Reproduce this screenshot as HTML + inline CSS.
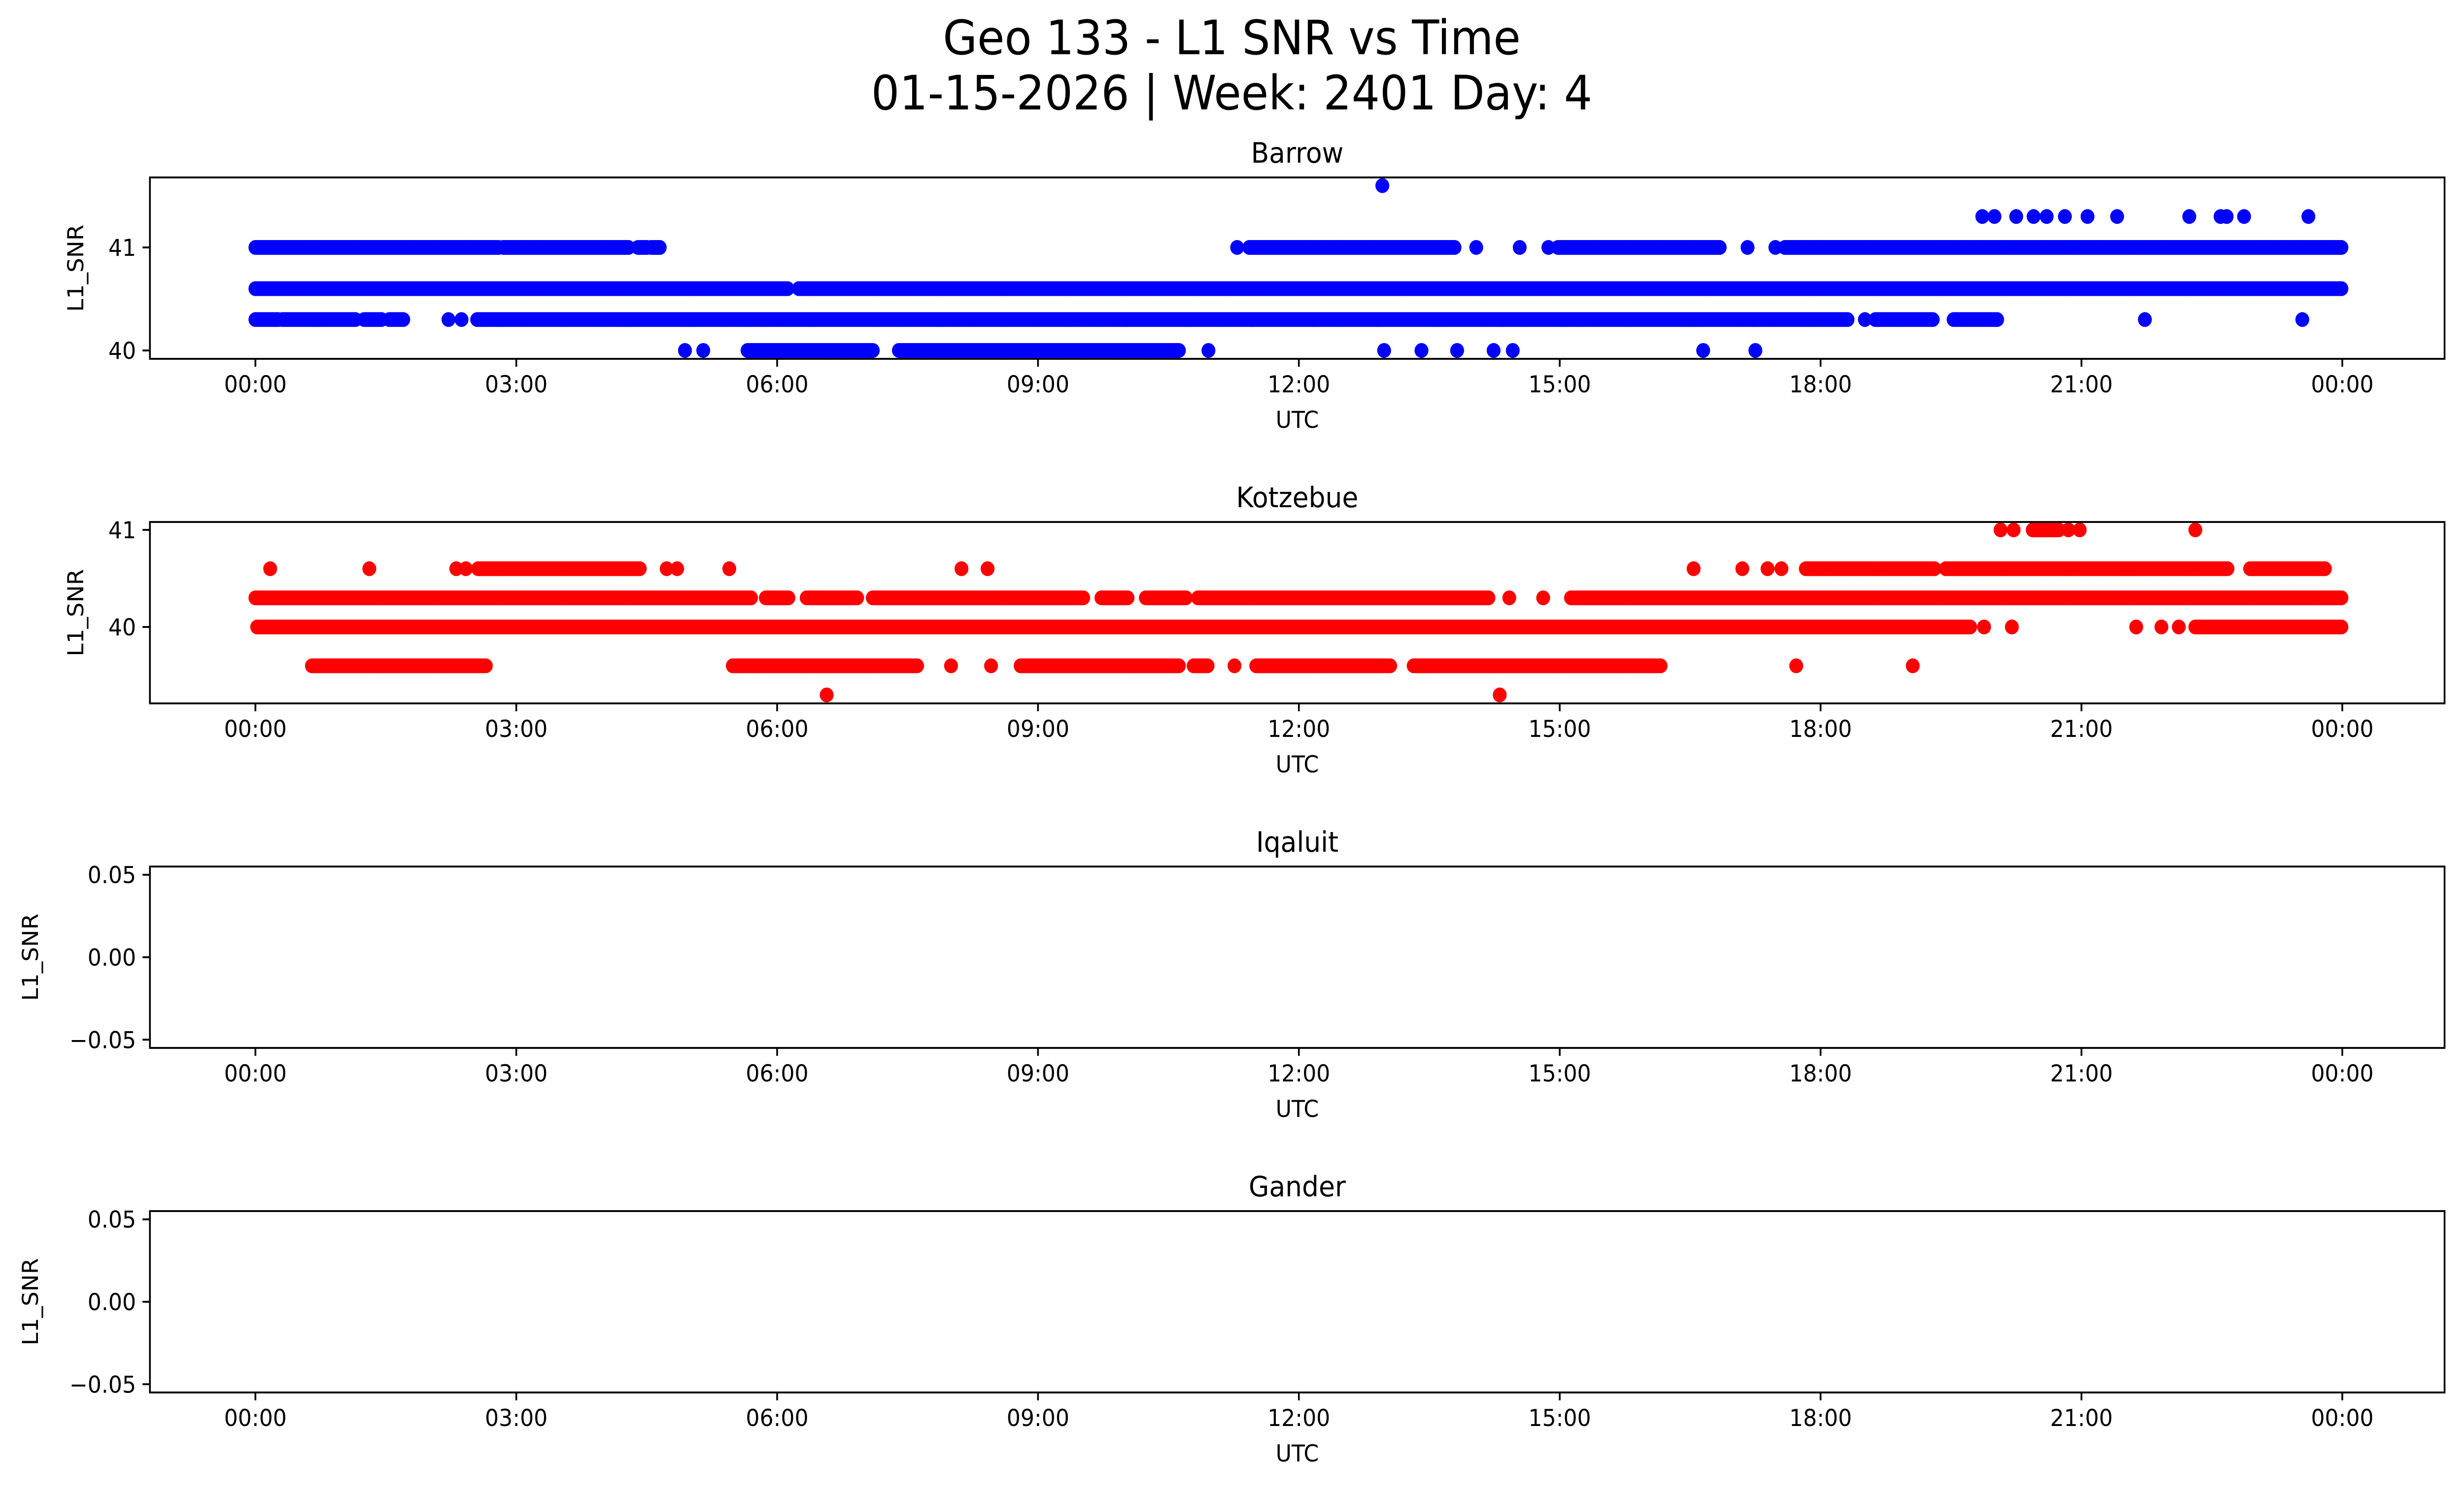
<!DOCTYPE html>
<html><head><meta charset="utf-8"><title>Geo 133 - L1 SNR vs Time</title>
<style>html,body{margin:0;padding:0;background:#fff;overflow:hidden;width:100%;height:100%}svg{display:block;position:absolute;left:0;top:0;width:100vw;height:100vh}text{font-family:"DejaVu Sans","Liberation Sans",sans-serif;fill:#000}</style>
</head><body>
<svg id="fig" xmlns="http://www.w3.org/2000/svg" viewBox="0 0 5325 3033" preserveAspectRatio="none">
<rect width="5325" height="3033" fill="#fff"/>
<text x="2662" y="110" font-size="96" text-anchor="middle">Geo 133 - L1 SNR vs Time</text>
<text x="2662" y="222" font-size="96" text-anchor="middle">01-15-2026 | Week: 2401 Day: 4</text>
</svg>
<script>
// ---- data (hours UTC, L1 SNR). Ranges [start,end] = continuous runs of samples; single = isolated sample ----
const stations = ["Barrow","Kotzebue","Iqaluit","Gander"];
const xTickLabels = ["00:00","03:00","06:00","09:00","12:00","15:00","18:00","21:00","00:00"];
const xTickHours = [0,3,6,9,12,15,18,21,24];
const barrowLevels = [41.6,41.3,41,40.6,40.3,40];
const barrowRuns = [
 [[12.96,12.96]],
 [[19.86,19.86],[20.0,20.0],[20.25,20.25],[20.45,20.45],[20.6,20.6],[20.81,20.81],[21.07,21.07],[21.41,21.41],[22.24,22.24],[22.6,22.6],[22.67,22.67],[22.87,22.87],[23.61,23.61]],
 [[0.0,2.8],[2.85,4.3],[4.4,4.5],[4.55,4.65],[11.29,11.29],[11.43,13.8],[14.04,14.04],[14.54,14.54],[14.87,14.87],[14.98,16.84],[17.16,17.16],[17.48,17.48],[17.59,24.0]],
 [[0.0,6.13],[6.25,24.0]],
 [[0.0,0.27],[0.31,1.16],[1.25,1.46],[1.54,1.71],[2.22,2.22],[2.37,2.37],[2.55,18.32],[18.51,18.51],[18.63,19.29],[19.53,20.03],[21.73,21.73],[23.54,23.54]],
 [[4.94,4.94],[5.15,5.15],[5.66,7.10],[7.40,10.62],[10.96,10.96],[12.98,12.98],[13.41,13.41],[13.82,13.82],[14.24,14.24],[14.46,14.46],[16.65,16.65],[17.25,17.25]]
];
const kotzLevels = [41,40.6,40.3,40,39.6,39.3];
const kotzRuns = [
 [[20.07,20.07],[20.22,20.22],[20.44,20.74],[20.85,20.85],[20.98,20.98],[22.31,22.31]],
 [[0.17,0.17],[1.31,1.31],[2.31,2.31],[2.42,2.42],[2.56,4.43],[4.73,4.73],[4.85,4.85],[5.45,5.45],[8.12,8.12],[8.42,8.42],[16.54,16.54],[17.1,17.1],[17.39,17.39],[17.55,17.55],[17.83,19.31],[19.44,22.68],[22.94,23.8]],
 [[0.0,5.7],[5.87,6.13],[6.34,6.93],[7.1,9.52],[9.73,10.03],[10.24,10.71],[10.84,14.18],[14.42,14.42],[14.81,14.81],[15.13,24.0]],
 [[0.02,19.72],[19.88,19.88],[20.2,20.2],[21.63,21.63],[21.92,21.92],[22.12,22.12],[22.31,24.0]],
 [[0.65,2.65],[5.49,7.61],[8.0,8.0],[8.46,8.46],[8.8,10.62],[10.79,10.96],[11.26,11.26],[11.51,13.06],[13.32,16.17],[17.72,17.72],[19.06,19.06]],
 [[6.57,6.57],[14.31,14.31]]
];
const barrowYTicks = [40,41];
const kotzYTicks = [40,41];
const emptyYTicks = [0.05,0.0,-0.05];
const emptyYTickLabels = ["0.05","0.00","\u22120.05"];

// ---- layout ----
const NS="http://www.w3.org/2000/svg";
const svg=document.getElementById('fig');
const AX_L=324, AX_R=5283, AX_H=368;
const tops=[360,1059,1758,2457];
const X0=552, X24=5062;
function xScale(h){return X0+(X24-X0)*h/24;}
function mk(tag,attrs,parent){const e=document.createElementNS(NS,tag);for(const k in attrs)e.setAttribute(k,attrs[k]);(parent||svg).appendChild(e);return e;}

function yScaleFactory(top,v0,p0,v1,p1){return v=>p0+(v-v0)*(p1-p0)/(v1-v0);}
const yScales=[
 yScaleFactory(tops[0],40,711,41,502),
 yScaleFactory(tops[1],40,1272,41,1075),
 yScaleFactory(tops[2],-0.055,tops[2]+AX_H,0.055,tops[2]),
 yScaleFactory(tops[3],-0.055,tops[3]+AX_H,0.055,tops[3])
];

for(let i=0;i<4;i++){
 const top=tops[i], bot=top+AX_H, y=yScales[i];
 const g=mk('g',{});
 
 
 const t=mk('text',{x:(AX_L+AX_R)/2,y:top-30,'font-size':57,'text-anchor':'middle'},g);
 t.textContent=stations[i];
 
 
 const levels = i===0?barrowLevels:(i===1?kotzLevels:[]);
 const runs = i===0?barrowRuns:(i===1?kotzRuns:[]);
 const color = i===0?'#0000ff':'#ff0000';
 const pg=mk('g',{fill:color},g);
 
 
 for(let l=0;l<levels.length;l++){
  const cy=y(levels[l]);
  for(const r of runs[l]){
   for(let h=r[0];h<=r[1]+1e-9;h+=0.02){
    const c=mk('circle',{cx:xScale(h).toFixed(1),cy:cy.toFixed(1),r:15},pg);
    
    
   }
  }
 }
 const fr=mk('rect',{x:AX_L,y:top,width:AX_R-AX_L,height:AX_H,fill:'none',stroke:'#000','stroke-width':3.8},g);
 
 
 for(let k=0;k<xTickHours.length;k++){
  const x=xScale(xTickHours[k]);
  mk('line',{x1:x,x2:x,y1:bot,y2:bot+16,stroke:'#000','stroke-width':3.8},g);
  const tl=mk('text',{x:x,y:bot+68,'font-size':47,'text-anchor':'middle'},g);
  tl.textContent=xTickLabels[k];
  
  
 }
 const xl=mk('text',{x:(AX_L+AX_R)/2,y:bot+140,'font-size':47,'text-anchor':'middle'},g);
 xl.textContent='UTC';
 
 
 const yt = i===0?barrowYTicks:(i===1?kotzYTicks:emptyYTicks);
 for(let k=0;k<yt.length;k++){
  const yy=y(yt[k]);
  mk('line',{x1:AX_L-16,x2:AX_L,y1:yy,y2:yy,stroke:'#000','stroke-width':3.8},g);
  const tl=mk('text',{x:AX_L-30,y:yy+17,'font-size':47,'text-anchor':'end'},g);
  tl.textContent = i<2?String(yt[k]):emptyYTickLabels[k];
  
  
 }
 const ylx = i<2?180:82;
 const yl=mk('text',{x:ylx,y:top+AX_H/2,'font-size':47,'text-anchor':'middle',transform:`rotate(-90 ${ylx} ${top+AX_H/2})`},g);
 yl.textContent='L1_SNR';
 
 
}
</script>
</body></html>
